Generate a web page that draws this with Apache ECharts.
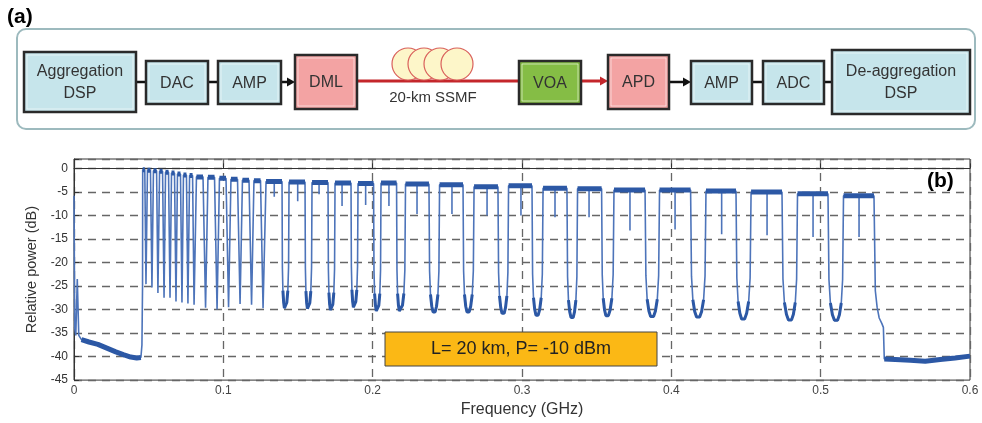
<!DOCTYPE html>
<html>
<head>
<meta charset="utf-8">
<script src="https://cdn.jsdelivr.net/npm/echarts@6/dist/echarts.min.js"></script>
<style>
  body{margin:0;background:#fff}
  #main{width:982px;height:423px}
</style>
</head>
<body>
<div id="main"></div>
<script>
// spectrum below the first channel (GHz, dB)
const lowFreq = [0, 0.0005, 0.0012, 0.0022, 0.0032, 0.005, 0.010, 0.016, 0.022, 0.028, 0.033, 0.038, 0.042, 0.0448, 0.0455, 0.0459]
const lowPow  = [-5.8, -34, -35.5, -23.5, -35.5, -36.4, -36.9, -37.4, -38.2, -39.0, -39.6, -40.1, -40.3, -40.2, -37.5, -25]

// channels: flat top from start to end (GHz), level (dB)
const chStart = [0.0460, 0.0492, 0.0532, 0.0573, 0.0613, 0.0653, 0.0693, 0.0733, 0.0774, 0.0820, 0.0897, 0.0974, 0.1051, 0.1128, 0.1205,
  0.1286, 0.1440, 0.1594, 0.1748, 0.1902, 0.2056, 0.2220, 0.2448, 0.2679, 0.2910, 0.3141, 0.3372, 0.3616, 0.3921, 0.4232, 0.4534, 0.4845, 0.5153]
const chEnd   = [0.0474, 0.0512, 0.0553, 0.0593, 0.0633, 0.0673, 0.0713, 0.0753, 0.0794, 0.0864, 0.0941, 0.1018, 0.1095, 0.1172, 0.1249,
  0.1393, 0.1547, 0.1701, 0.1855, 0.2006, 0.2160, 0.2377, 0.2605, 0.2839, 0.3067, 0.3301, 0.3533, 0.3824, 0.4129, 0.4433, 0.4741, 0.5049, 0.5357]
const chTop   = [-0.3, -0.4, -0.5, -0.6, -0.8, -1.0, -1.2, -1.4, -1.5, -1.8, -1.9, -2.1, -2.3, -2.5, -2.6,
  -2.8, -2.9, -3.0, -3.1, -3.2, -3.1, -3.3, -3.5, -3.9, -3.7, -4.2, -4.3, -4.6, -4.6, -4.8, -5.0, -5.4, -5.8]

// notch between channel i and i+1: centre (GHz) and depth (dB)
const notchFreq = [0.0482, 0.0522, 0.0562, 0.0603, 0.0643, 0.0683, 0.0723, 0.0763, 0.0804, 0.0881, 0.0958, 0.1035, 0.1112, 0.1189, 0.1266,
  0.1413, 0.1567, 0.1721, 0.1875, 0.2029, 0.2183, 0.2411, 0.2638, 0.2873, 0.3100, 0.3335, 0.3569, 0.3871, 0.4179, 0.4480, 0.4795, 0.5103]
const notchPow  = [-24.6, -25.3, -26.5, -27.5, -27.5, -28.3, -28.5, -28.7, -29.0, -29.6, -30.0, -29.5, -28.8, -29.0, -29.7,
  -30.0, -30.1, -30.4, -29.8, -30.6, -30.6, -30.8, -30.8, -31.1, -31.5, -32.0, -31.6, -31.8, -31.9, -32.3, -32.5, -32.6]

// narrow dips inside the wider channels
const spikeFreq = [0.1341, 0.1498, 0.1641, 0.1795, 0.1953, 0.2109, 0.2297, 0.2531, 0.2766, 0.2993, 0.3221, 0.3449, 0.3723, 0.4025, 0.4337, 0.4641, 0.4949, 0.5257]
const spikePow  = [-6.0, -7.0, -5.5, -8.0, -7.8, -8.0, -9.7, -9.7, -10.0, -10.0, -10.4, -10.4, -13.2, -13.0, -14.0, -14.2, -14.6, -14.6]

// roll-off and floor above the last channel
const highFreq = [0.5366, 0.5378, 0.5392, 0.5410, 0.5420, 0.5426, 0.55, 0.56, 0.57, 0.58, 0.59, 0.60]
const highPow  = [-26, -29.5, -31.8, -33, -33.8, -40.5, -40.6, -40.8, -41.0, -40.6, -40.3, -39.9]

const xTicks = [0, 0.1, 0.2, 0.3, 0.4, 0.5, 0.6]

// build the trace
const trace = []
const tops = []     // thick overlay: noisy channel tops and floors
const bottoms = []  // medium overlay: notch bottoms
lowFreq.forEach((f, i) => trace.push([f, lowPow[i]]))
lowFreq.forEach((f, i) => { if (f >= 0.005 && f <= 0.0448) tops.push([f, lowPow[i]]) })
tops.push('-')
for (let i = 0; i < chStart.length; i++) {
  const t = chTop[i]
  trace.push([chStart[i], t])
  const k = spikeFreq.findIndex(f => f > chStart[i] && f < chEnd[i])
  if (k >= 0) trace.push([spikeFreq[k], t], [spikeFreq[k], spikePow[k]], [spikeFreq[k], t])
  trace.push([chEnd[i], t])
  tops.push([chStart[i], t], [chEnd[i], t], '-')
  if (i < notchFreq.length) {
    const a = chEnd[i], m = notchFreq[i], b = chStart[i + 1], p = notchPow[i]
    if (b - a > 0.004) {
      // wide gap: rounded bowl-shaped notch
      const l = m - a, r = b - m
      const u = [[a + l * 0.12, p + 9], [a + l * 0.3, p + 4], [a + l * 0.55, p + 1.5], [a + l * 0.8, p + 0.3], [m, p],
                 [m + r * 0.2, p + 0.3], [m + r * 0.45, p + 1.5], [m + r * 0.7, p + 4], [m + r * 0.88, p + 9]]
      u.forEach(q => trace.push(q))
      bottoms.push(u[1], u[2], u[3], u[4], u[5], u[6], u[7], '-')
    } else {
      trace.push([m, p])
    }
  }
}
highFreq.forEach((f, i) => trace.push([f, highPow[i]]))
highFreq.forEach((f, i) => { if (f >= 0.5426) tops.push([f, highPow[i]]) })

// block diagram (a)
const cyan = '#c6e5eb', pink = '#f3a3a3', green = '#85bd45'
const blocks = [
  [24, 52, 112, 60, cyan, 'Aggregation\nDSP'],
  [146, 61, 62, 43, cyan, 'DAC'],
  [218, 61, 63, 43, cyan, 'AMP'],
  [295, 55, 62, 54, pink, 'DML'],
  [519, 61, 62, 43, green, 'VOA'],
  [608, 55, 61, 54, pink, 'APD'],
  [691, 61, 61, 43, cyan, 'AMP'],
  [763, 61, 61, 43, cyan, 'ADC'],
  [832, 50, 138, 64, cyan, 'De-aggregation\nDSP']
]
const FONT = '"Liberation Sans", Arial, sans-serif'
const g = []
g.push({ type: 'rect', shape: { x: 17, y: 29, width: 958, height: 100, r: 9 }, style: { fill: 'none', stroke: '#9dbabe', lineWidth: 2 } })
g.push({ type: 'text', style: { text: '(a)', x: 7, y: 7, fontSize: 21, fontWeight: 'bold', fontFamily: FONT, fill: '#000' } })
// connectors
const wire = (x1, x2, y, c, w) => g.push({ type: 'line', shape: { x1, y1: y, x2, y2: y }, style: { stroke: c, lineWidth: w } })
const head = (x, y, c) => g.push({ type: 'polygon', shape: { points: [[x - 8, y - 4.5], [x, y], [x - 8, y + 4.5]] }, style: { fill: c } })
wire(136, 146, 82, '#111', 2.5)
wire(208, 218, 82, '#111', 2.5)
wire(281, 290, 82, '#111', 2.5); head(295, 82, '#111')
wire(357, 519, 81, '#c4262b', 3)
wire(581, 602, 81, '#c4262b', 3); head(608, 81, '#c4262b')
wire(669, 686, 82, '#111', 2.5); head(691, 82, '#111')
wire(752, 763, 82, '#111', 2.5)
wire(824, 832, 82, '#111', 2.5)
// fibre spool
;[408, 424, 440, 457].forEach(cx => g.push({ type: 'circle', shape: { cx, cy: 64, r: 16 }, style: { fill: '#fdf6c9', stroke: '#d9605b', lineWidth: 1.2 } }))
g.push({ type: 'text', style: { text: '20-km SSMF', x: 433, y: 98, align: 'center', verticalAlign: 'middle', fontSize: 15, fontFamily: FONT, fill: '#333' } })
blocks.forEach(([x, y, w, h, fill, txt]) => {
  g.push({ type: 'rect', shape: { x, y, width: w, height: h }, style: { fill, stroke: '#2a2a2a', lineWidth: 2.5 } })
  g.push({ type: 'rect', shape: { x: x + 3, y: y + 3, width: w - 6, height: h - 6 }, style: { fill: 'none', stroke: 'rgba(255,255,255,0.55)', lineWidth: 1 } })
  g.push({ type: 'text', style: { text: txt, x: x + w / 2, y: y + h / 2 + 1, align: 'center', verticalAlign: 'middle', fontSize: 16, lineHeight: 22, fontFamily: FONT, fill: '#333' } })
})
// annotations for (b)
g.push({ type: 'rect', z: 100, shape: { x: 385, y: 332, width: 272, height: 34 }, style: { fill: '#fbb815', stroke: '#444', lineWidth: 1 } })
g.push({ type: 'text', z: 101, style: { text: 'L= 20 km, P= -10 dBm', x: 521, y: 349.5, align: 'center', verticalAlign: 'middle', fontSize: 18, fontFamily: FONT, fill: '#222' } })
g.push({ type: 'text', z: 101, style: { text: '(b)', x: 927, y: 171, fontSize: 21, fontWeight: 'bold', fontFamily: FONT, fill: '#000' } })

const gridDash = { color: '#666', width: 1.3, type: [8, 6] }
const option = {
  animation: false,
  textStyle: { fontFamily: FONT },
  grid: { left: 74, right: 12, top: 159, bottom: 38, show: true, borderColor: '#333', borderWidth: 1, backgroundColor: 'transparent' },
  xAxis: {
    type: 'value', min: xTicks[0], max: xTicks[xTicks.length - 1], interval: 0.1,
    name: 'Frequency (GHz)', nameLocation: 'middle', nameGap: 18,
    nameTextStyle: { fontSize: 16, color: '#333' },
    axisLine: { show: true, lineStyle: { color: '#333' } },
    axisTick: { inside: true, length: 5, lineStyle: { color: '#333' } },
    axisLabel: { fontSize: 12, color: '#444', margin: 5 },
    splitLine: { show: true, lineStyle: gridDash }
  },
  yAxis: {
    type: 'value', min: -45, max: 2, interval: 5,
    name: 'Relative power (dB)', nameLocation: 'middle', nameGap: 32,
    nameTextStyle: { fontSize: 14.5, color: '#333' },
    axisLine: { show: true, lineStyle: { color: '#333' } },
    axisTick: { inside: true, length: 5, lineStyle: { color: '#333' } },
    axisLabel: { fontSize: 12, color: '#333', margin: 6, formatter: v => (v % 5 === 0 ? String(v) : '') },
    splitLine: { show: true, lineStyle: gridDash }
  },
  series: [
    { type: 'line', data: trace, showSymbol: false, lineStyle: { color: '#4d74ba', width: 1.6 }, z: 3 },
    { type: 'line', data: bottoms, showSymbol: false, connectNulls: false, lineStyle: { color: '#2c58a5', width: 3 }, z: 4 },
    { type: 'line', data: tops, showSymbol: false, connectNulls: false, lineStyle: { color: '#2c58a5', width: 5 }, z: 4 }
  ],
  graphic: g
}
const chart = echarts.init(document.getElementById('main'))
chart.setOption(option)
</script>
</body>
</html>
